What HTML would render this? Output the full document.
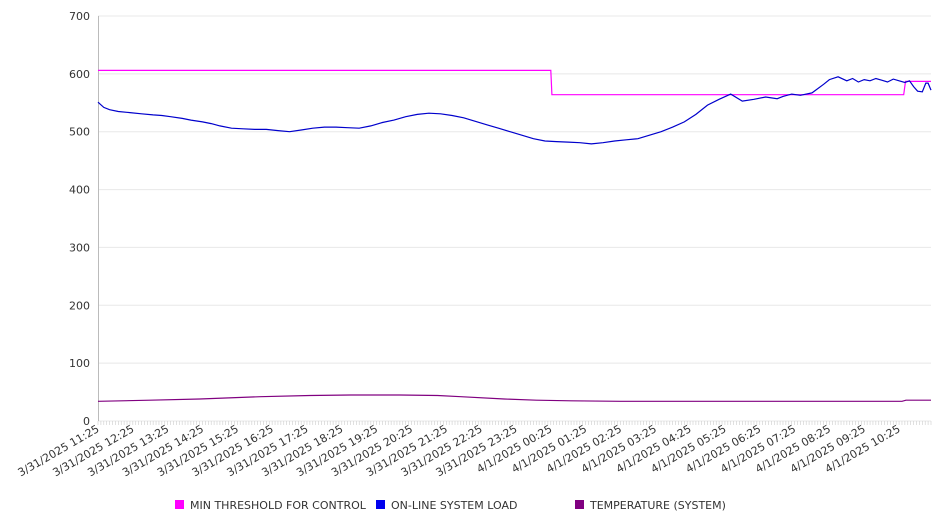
<!DOCTYPE html>
<html><head><meta charset="utf-8"><style>
body{margin:0;background:#fff;}
svg{display:block;font-family:"DejaVu Sans","Liberation Sans",sans-serif;}
</style></head><body>
<svg id="chart" width="946" height="526" xmlns="http://www.w3.org/2000/svg">
<g id="grid"></g>
<g id="axes"></g>
<g id="series"></g>
<g font-size="11" fill="#333">
<rect x="175" y="500" width="9" height="9" fill="#ff00ff"/>
<text x="190" y="509">MIN THRESHOLD FOR CONTROL</text>
<rect x="376" y="500" width="9" height="9" fill="#0000ee"/>
<text x="391" y="509">ON-LINE SYSTEM LOAD</text>
<rect x="575" y="500" width="9" height="9" fill="#800080"/>
<text x="590" y="509">TEMPERATURE (SYSTEM)</text>
</g>
</svg>
<script>
const xLabels=["3/31/2025 11:25","3/31/2025 12:25","3/31/2025 13:25","3/31/2025 14:25","3/31/2025 15:25","3/31/2025 16:25","3/31/2025 17:25","3/31/2025 18:25","3/31/2025 19:25","3/31/2025 20:25","3/31/2025 21:25","3/31/2025 22:25","3/31/2025 23:25","4/1/2025 00:25","4/1/2025 01:25","4/1/2025 02:25","4/1/2025 03:25","4/1/2025 04:25","4/1/2025 05:25","4/1/2025 06:25","4/1/2025 07:25","4/1/2025 08:25","4/1/2025 09:25","4/1/2025 10:25"];
const yTicks=[0,100,200,300,400,500,600,700];
// minutes after 3/31 11:25
const loadMinutes=[0,10,20,35,55,75,95,110,125,145,160,180,195,210,230,250,270,290,310,330,350,370,390,410,430,450,470,490,510,530,550,570,590,610,630,650,670,690,710,730,750,770,790,810,830,850,870,890,910,930,950,970,990,1010,1030,1050,1070,1090,1110,1130,1150,1170,1180,1195,1210,1230,1250,1260,1275,1290,1300,1310,1320,1330,1340,1350,1360,1370,1380,1390,1398,1405,1412,1420,1426,1430,1435];
const loadValues=[551,542,538,535,533,531,529,528,526,523,520,517,514,510,506,505,504,504,502,500,503,506,508,508,507,506,510,516,520,526,530,532,531,528,524,518,512,506,500,494,488,484,483,482,481,479,481,484,486,488,494,500,508,517,530,546,556,565,553,556,560,557,561,565,563,567,582,590,595,588,592,586,590,588,592,589,586,591,588,585,588,578,570,569,584,584,572,572];
const thrMinutes=[0,780,782,1388,1391,1435];
const thrValues=[606,606,564,564,587,587];
const tempMinutes=[0,90,175,280,365,435,520,585,625,700,755,815,900,1000,1100,1200,1300,1385,1392,1435];
const tempValues=[34,36,38,42,44,45,45,44,42,38,36,35,34,34,34,34,34,34,36,36];

const X0=98,X1=931,Y0=421,Y1=16,TMAX=1435,VMAX=700;
const xs=m=>X0+m/TMAX*(X1-X0);
const ys=v=>Y0-v/VMAX*(Y0-Y1);
const NS="http://www.w3.org/2000/svg";
function mk(tag,attrs,parent){const e=document.createElementNS(NS,tag);for(const k in attrs)e.setAttribute(k,attrs[k]);parent.appendChild(e);return e;}
const grid=document.getElementById('grid'),axes=document.getElementById('axes'),series=document.getElementById('series');
yTicks.forEach(v=>{
  const l=mk('line',{x1:X0,x2:X1,y1:ys(v),y2:ys(v),stroke:'#e8e8e8','stroke-width':1},grid);
  
  
  const t=mk('text',{x:90,y:ys(v)+4,'text-anchor':'end','font-size':11,fill:'#333'},axes);
  t.textContent=v;
  
  
});
const ax=mk('line',{x1:X0+0.5,x2:X0+0.5,y1:Y1,y2:Y0,stroke:'#bbb'},axes);


for(let m=0;m<=TMAX;m+=5){
  const tk=mk('line',{x1:xs(m),x2:xs(m),y1:Y0,y2:Y0+4,stroke:'#ccc','stroke-width':0.6},axes);
  
  
}
xLabels.forEach((s,i)=>{
  const x=xs(i*60)+2,y=Y0+10;
  const t=mk('text',{x:x,y:y,'text-anchor':'end','font-size':11,fill:'#333',transform:`rotate(-30 ${x} ${y})`},axes);
  t.textContent=s;
  
  
});
function line(ms,vs,color,name){
  const d=ms.map((m,i)=>(i?'L':'M')+xs(m).toFixed(1)+','+ys(vs[i]).toFixed(1)).join('');
  const p=mk('path',{d:d,fill:'none',stroke:color,'stroke-width':1.2},series);
  
  
}
line(tempMinutes,tempValues,'#800080','temperature-line');
line(thrMinutes,thrValues,'#ff00ff','min-threshold-line');
line(loadMinutes,loadValues,'#0000cc','system-load-line');
</script>
</body></html>
